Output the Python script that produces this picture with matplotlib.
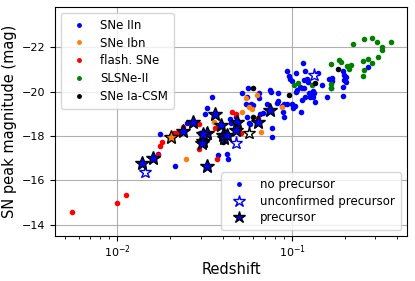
import matplotlib
matplotlib.use("Agg")
import matplotlib.pyplot as plt
from matplotlib.lines import Line2D

# SNe IIn
z_iin = [0.0176, 0.0298, 0.0250, 0.0324, 0.0349, 0.0215, 0.0379, 0.0424, 0.0429,
         0.0446, 0.0479, 0.0442, 0.0483, 0.0563, 0.0518, 0.0555, 0.0648, 0.0583,
         0.0544, 0.0601, 0.0551, 0.0570, 0.0575, 0.0680, 0.0717, 0.0749, 0.0759,
         0.0828, 0.0766, 0.0766, 0.0818, 0.0828, 0.0880, 0.0904, 0.0933, 0.1004,
         0.1040, 0.1009, 0.1126, 0.0885, 0.0900, 0.0933, 0.0965, 0.0978, 0.0996,
         0.1058, 0.1160, 0.1191, 0.1414, 0.1213, 0.1176, 0.1239, 0.1111, 0.1136,
         0.1064, 0.1176, 0.1323, 0.1341, 0.1267, 0.1187, 0.1145, 0.1353, 0.1478,
         0.1579, 0.1634, 0.1686, 0.1699, 0.1671, 0.1964, 0.1983, 0.2027, 0.1990,
         0.2027, 0.1949, 0.1964, 0.2729, 0.0656, 0.0645, 0.1054, 0.1256, 0.1323,
         0.0170, 0.0318]
mag_iin = [-18.08, -18.15, -18.57, -19.24, -19.74, -16.64, -17.15, -17.18, -16.97,
           -18.60, -18.87, -18.75, -18.69, -20.14, -19.95, -19.75, -19.72, -19.44,
           -19.44, -19.39, -18.84, -18.60, -18.53, -19.02, -19.44, -20.07, -19.99,
           -19.92, -18.37, -17.94, -19.50, -19.57, -19.35, -19.44, -19.44, -19.44,
           -19.35, -19.24, -19.09, -19.07, -18.84, -20.92, -20.70, -20.55, -20.47,
           -20.84, -21.29, -20.91, -20.84, -20.56, -20.50, -20.44, -20.19, -20.14,
           -20.07, -20.14, -20.04, -19.95, -19.77, -19.77, -19.62, -19.54, -20.29,
           -19.74, -20.55, -20.61, -20.47, -20.14, -20.92, -20.74, -20.65, -20.52,
           -20.44, -20.19, -19.81, -21.11, -18.99, -19.95, -19.99, -19.92, -19.77,
           -17.21, -19.00]

# SNe Ibn
z_ibn = [0.0247, 0.0358, 0.0546, 0.0634, 0.0570, 0.0589, 0.0520, 0.0873, 0.0665]
mag_ibn = [-16.97, -18.64, -19.72, -19.84, -19.32, -19.21, -19.09, -19.32, -18.19]

# flash-ionisation SNe
z_flash = [0.00548, 0.0100, 0.0112, 0.0170, 0.01745, 0.0181, 0.0210, 0.0219, 0.0239,
           0.0295, 0.0295, 0.0374, 0.0452, 0.0479, 0.0360, 0.0642, 0.0511]
mag_flash = [-14.57, -14.98, -15.35, -17.15, -17.56, -17.74, -18.12, -18.12, -18.39,
             -18.53, -17.40, -16.97, -19.09, -18.98, -18.37, -18.80, -18.13]

# SLSNe-II
z_slsn = [0.222, 0.259, 0.288, 0.305, 0.328, 0.328, 0.369, 0.309, 0.285, 0.272,
          0.254, 0.258, 0.254, 0.216, 0.212, 0.206, 0.186, 0.191, 0.167, 0.166,
          0.130, 0.108, 0.102, 0.166]
mag_slsn = [-22.12, -22.37, -22.40, -22.21, -22.01, -21.87, -22.21, -21.54, -21.27,
            -21.45, -21.38, -20.97, -20.71, -21.18, -21.00, -21.15, -21.42, -21.34,
            -21.24, -20.32, -20.28, -20.37, -20.29, -20.16]

# SNe Ia-CSM
z_iacsm = [0.0601, 0.0965, 0.1839, 0.1359, 0.0601, 0.0400]
mag_iacsm = [-20.14, -19.84, -21.00, -20.37, -18.87, -17.72]

# precursor detections (type of each)
z_prec = [0.01384, 0.0159, 0.0204, 0.0238, 0.0271, 0.0363, 0.0393, 0.0328, 0.0311,
          0.0305, 0.0402, 0.0410, 0.0427, 0.0483, 0.0479, 0.0642, 0.0749, 0.0328,
          0.0309]
mag_prec = [-16.77, -17.03, -17.96, -18.24, -18.62, -19.01, -18.49, -18.12, -17.79,
            -17.67, -18.04, -17.90, -18.04, -18.64, -18.28, -18.63, -19.17, -16.67,
            -18.08]
type_prec = ["IIn", "IIn", "Ibn", "IIn", "IIn", "IIn", "IIn", "IIn", "IIn",
             "IIn", "IIn", "IIn", "IIn", "IIn", "IIn", "IIn", "IIn", "IIn", "IIn"]

# unconfirmed precursors
z_unc = [0.01445, 0.0479, 0.0566, 0.1336]
mag_unc = [-16.38, -17.70, -18.13, -20.74]
type_unc = ["IIn", "IIn", "Ia-CSM", "IIn"]

colors = {"IIn": "b", "Ibn": "#ff7f0e", "flash": "r", "SLSN": "g", "Ia-CSM": "k"}

fig = plt.figure(figsize=(4.15, 2.81), dpi=100)
ax = fig.add_axes([0.1325, 0.160, 0.848, 0.815])

ms = 4
ax.plot(z_iin, mag_iin, "o", color=colors["IIn"], ms=ms, mew=0)
ax.plot(z_ibn, mag_ibn, "o", color=colors["Ibn"], ms=ms, mew=0)
ax.plot(z_flash, mag_flash, "o", color=colors["flash"], ms=ms, mew=0)
ax.plot(z_slsn, mag_slsn, "o", color=colors["SLSN"], ms=ms, mew=0)
ax.plot(z_iacsm, mag_iacsm, "o", color=colors["Ia-CSM"], ms=ms, mew=0)

for z, m, t in zip(z_unc, mag_unc, type_unc):
    ax.plot(z, m, "*", ms=9.5, mfc="white", mec=colors[t], mew=1.0, zorder=4)
for z, m, t in zip(z_prec, mag_prec, type_prec):
    ax.plot(z, m, "*", ms=10, mfc=colors[t], mec="k", mew=1.0, zorder=5)

ax.set_xscale("log")
ax.set_xlim(0.0044, 0.454)
ax.set_ylim(-13.5, -23.8)
ax.set_yticks([-14, -16, -18, -20, -22])
ax.grid(True, which="major", color="#b0b0b0", lw=0.8)
ax.set_axisbelow(True)
ax.tick_params(labelsize=8)
ax.tick_params(axis="x", which="major", pad=2)
ax.set_xlabel("Redshift", fontsize=10.5, labelpad=1)
ax.set_ylabel("SN peak magnitude (mag)", fontsize=10.5, labelpad=3)

leg1_handles = [Line2D([], [], ls="", marker=".", color=c, ms=5)
                for c in [colors["IIn"], colors["Ibn"], colors["flash"], colors["SLSN"], colors["Ia-CSM"]]]
leg1 = ax.legend(leg1_handles, ["SNe IIn", "SNe Ibn", "flash. SNe", "SLSNe-II", "SNe Ia-CSM"],
                 loc="upper left", fontsize=8.5, borderpad=0.5, labelspacing=0.4)
ax.add_artist(leg1)

leg2_handles = [Line2D([], [], ls="", marker=".", color="b", ms=5),
                Line2D([], [], ls="", marker="*", mfc="white", mec="b", ms=9),
                Line2D([], [], ls="", marker="*", mfc="b", mec="k", ms=9)]
ax.legend(leg2_handles, ["no precursor", "unconfirmed precursor", "precursor"],
          loc="lower right", fontsize=8.5, borderpad=0.5, labelspacing=0.3)

fig.savefig("out.png", dpi=100)
